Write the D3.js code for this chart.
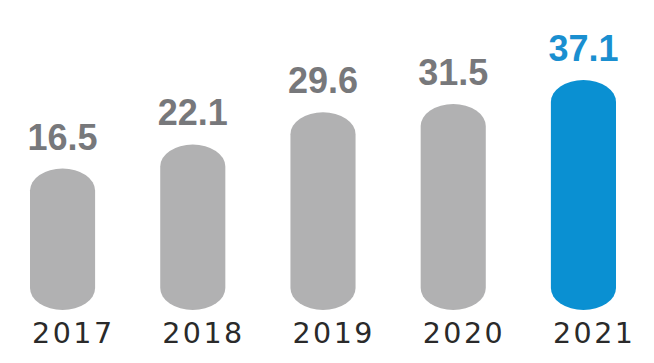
<!DOCTYPE html>
<html>
<head>
<meta charset="utf-8">
<script src="https://cdn.jsdelivr.net/npm/d3@7"></script>
<style>
  body { margin: 0; background: #fff; }
  svg { display: block; }
</style>
</head>
<body>
<div id="chart"></div>
<script>
// chart values
const years = ["2017", "2018", "2019", "2020", "2021"];
const values = [16.5, 22.1, 29.6, 31.5, 37.1];
const highlightYear = "2021";

const width = 654;
const height = 363;
const baseY = 310; // bottom of the bars

const svg = d3.select("#chart")
  .append("svg")
  .attr("width", width)
  .attr("height", height);

const data = years.map((y, i) => ({ year: y, value: values[i] }));

const x = d3.scaleBand()
  .domain(years)
  .range([30, 616])
  .paddingInner(0.5)
  .paddingOuter(0);

// bars don't start from zero in the original, they carry an offset
const y = d3.scaleLinear()
  .domain([-16.4, 37.1])
  .range([baseY, 80]);

const grey = "#b1b1b2";
const blue = "#0a90d2";

// pill shaped bars
svg.append("g")
  .selectAll("rect")
  .data(data)
  .join("rect")
  .attr("x", d => x(d.year))
  .attr("y", d => y(d.value))
  .attr("width", x.bandwidth())
  .attr("height", d => baseY - y(d.value))
  .attr("rx", x.bandwidth() / 2)
  .attr("ry", 22)
  .attr("fill", d => d.year === highlightYear ? blue : grey);

// value labels
svg.append("g")
  .selectAll("text")
  .data(data)
  .join("text")
  .attr("x", d => x(d.year) + x.bandwidth() / 2)
  .attr("y", d => y(d.value) - 19)
  .attr("text-anchor", "middle")
  .attr("font-family", "Liberation Sans, Arial, sans-serif")
  .attr("font-weight", "bold")
  .attr("font-size", 36)
  .attr("fill", d => d.year === highlightYear ? "#1a8fd0" : "#77787b")
  .text(d => d.value.toFixed(1));

// year labels
svg.append("g")
  .selectAll("text")
  .data(years)
  .join("text")
  .attr("x", d => x(d) + 2)
  .attr("y", 343)
  .attr("font-family", "DejaVu Sans, sans-serif")
  .attr("font-size", 28.5)
  .attr("letter-spacing", 2.5)
  .attr("fill", "#2a2a2a")
  .text(d => d);
</script>
</body>
</html>
